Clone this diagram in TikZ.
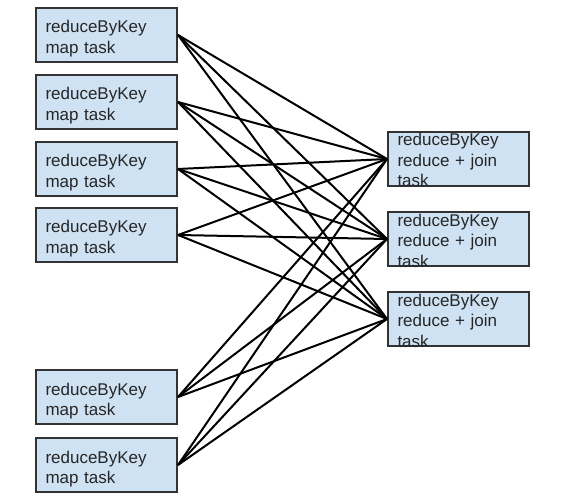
\documentclass[tikz,border=0pt]{standalone}
\usepackage{fontspec}
\setmainfont{Liberation Sans}
\definecolor{taskblue}{RGB}{207,226,243}
\begin{document}
\begin{tikzpicture}[
  x=1pt, y=-1pt,
  every node/.style={rectangle, draw=black!80, line width=2pt, fill=taskblue, text=black!85,
    font=\fontsize{17}{20.5}\selectfont, anchor=north west, align=left,
    inner xsep=9.5pt, inner ysep=0pt, text width=122pt, minimum height=54pt},
  maptask/.style={text height=25pt, text depth=29pt},
  jointask/.style={text height=14pt, text depth=40pt},
  link/.style={draw, line width=2pt, black}
]
  \useasboundingbox (0,0) rectangle (573,497);
  % map side
  \node[maptask] (m1) at (35,7) {reduceByKey\\map task};
  \node[maptask] (m2) at (35,74) {reduceByKey\\map task};
  \node[maptask] (m3) at (35,141) {reduceByKey\\map task};
  \node[maptask] (m4) at (35,207) {reduceByKey\\map task};
  \node[maptask] (m5) at (35,369) {reduceByKey\\map task};
  \node[maptask] (m6) at (35,437) {reduceByKey\\map task};
  % reduce side
  \node[jointask] (r1) at (387,131) {reduceByKey\\reduce + join\\task};
  \node[jointask] (r2) at (387,211) {reduceByKey\\reduce + join\\task};
  \node[jointask] (r3) at (387,291) {reduceByKey\\reduce + join\\task};
  % shuffle links
  \draw[link] (m1.east) -- (r1.west);
  \draw[link] (m1.east) -- (r2.west);
  \draw[link] (m1.east) -- (r3.west);
  \draw[link] (m2.east) -- (r1.west);
  \draw[link] (m2.east) -- (r2.west);
  \draw[link] (m2.east) -- (r3.west);
  \draw[link] (m3.east) -- (r1.west);
  \draw[link] (m3.east) -- (r2.west);
  \draw[link] (m3.east) -- (r3.west);
  \draw[link] (m4.east) -- (r1.west);
  \draw[link] (m4.east) -- (r2.west);
  \draw[link] (m4.east) -- (r3.west);
  \draw[link] (m5.east) -- (r1.west);
  \draw[link] (m5.east) -- (r2.west);
  \draw[link] (m5.east) -- (r3.west);
  \draw[link] (m6.east) -- (r1.west);
  \draw[link] (m6.east) -- (r2.west);
  \draw[link] (m6.east) -- (r3.west);
\end{tikzpicture}
\end{document}
